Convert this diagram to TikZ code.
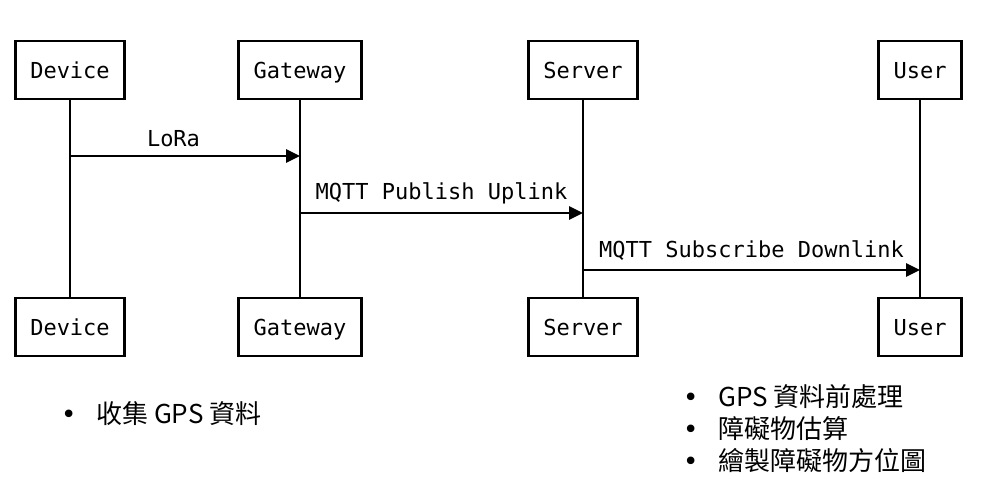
\documentclass[tikz,border=0pt]{standalone}
\usepackage{fontspec}
\setmonofont{DejaVu Sans Mono}
\newfontfamily\cjk{Noto Sans CJK TC}
\newfontfamily\dotfont{DejaVu Sans}
\newcommand{\notedot}{\makebox[35pt][l]{\dotfont\fontsize{26}{30}\selectfont •}}
\usetikzlibrary{arrows.meta}

\begin{document}
\begin{tikzpicture}[x=1pt, y=-1pt,
    actor/.style={draw, line width=2.8pt, minimum height=58pt, inner xsep=15pt,
        text height=20pt, text depth=3pt,
        font=\ttfamily\fontsize{22}{26}\selectfont},
    life/.style={line width=2.8pt},
    msg/.style={line width=2.8pt, -{Triangle[length=14pt,width=13pt]}},
    msglabel/.style={font=\ttfamily\fontsize{22}{26}\selectfont, above, inner sep=8pt},
    note/.style={anchor=west, inner sep=0pt, font=\cjk\fontsize{26}{30}\selectfont}]
    \useasboundingbox (0,0) rectangle (988,494);

    % Participants on top
    \node[actor] (devtop) at (70,70) {Device};
    \node[actor] (gwtop) at (300,70) {Gateway};
    \node[actor] (srvtop) at (583,70) {Server};
    \node[actor] (usrtop) at (920,70) {User};

    % Participants at the bottom
    \node[actor] (devbot) at (70,327) {Device};
    \node[actor] (gwbot) at (300,327) {Gateway};
    \node[actor] (srvbot) at (583,327) {Server};
    \node[actor] (usrbot) at (920,327) {User};

    % Lifelines
    \draw[life] (devtop.south) -- (devbot.north);
    \draw[life] (gwtop.south) -- (gwbot.north);
    \draw[life] (srvtop.south) -- (srvbot.north);
    \draw[life] (usrtop.south) -- (usrbot.north);

    % Points on the lifelines where the messages start and end
    \coordinate (m1a) at (70,156);
    \coordinate (m1b) at (300,156);
    \coordinate (m2a) at (300,213);
    \coordinate (m2b) at (583,213);
    \coordinate (m3a) at (583,270);
    \coordinate (m3b) at (920,270);

    % Messages
    \draw[msg] (m1a) -- node[msglabel, pos=0.45] (lora) {LoRa} (m1b);
    \draw[msg] (m2a) -- node[msglabel] (pub) {MQTT Publish Uplink} (m2b);
    \draw[msg] (m3a) -- node[msglabel] (sub) {MQTT Subscribe Downlink} (m3b);

    % Notes under the participants
    \node[note] (devnote) at (61,414) {\notedot 收集 GPS 資料};
    \node[note] (srvnote1) at (683,397) {\notedot GPS 資料前處理};
    \node[note] (srvnote2) at (683,429) {\notedot 障礙物估算};
    \node[note] (srvnote3) at (683,461) {\notedot 繪製障礙物方位圖};
\end{tikzpicture}
\end{document}
